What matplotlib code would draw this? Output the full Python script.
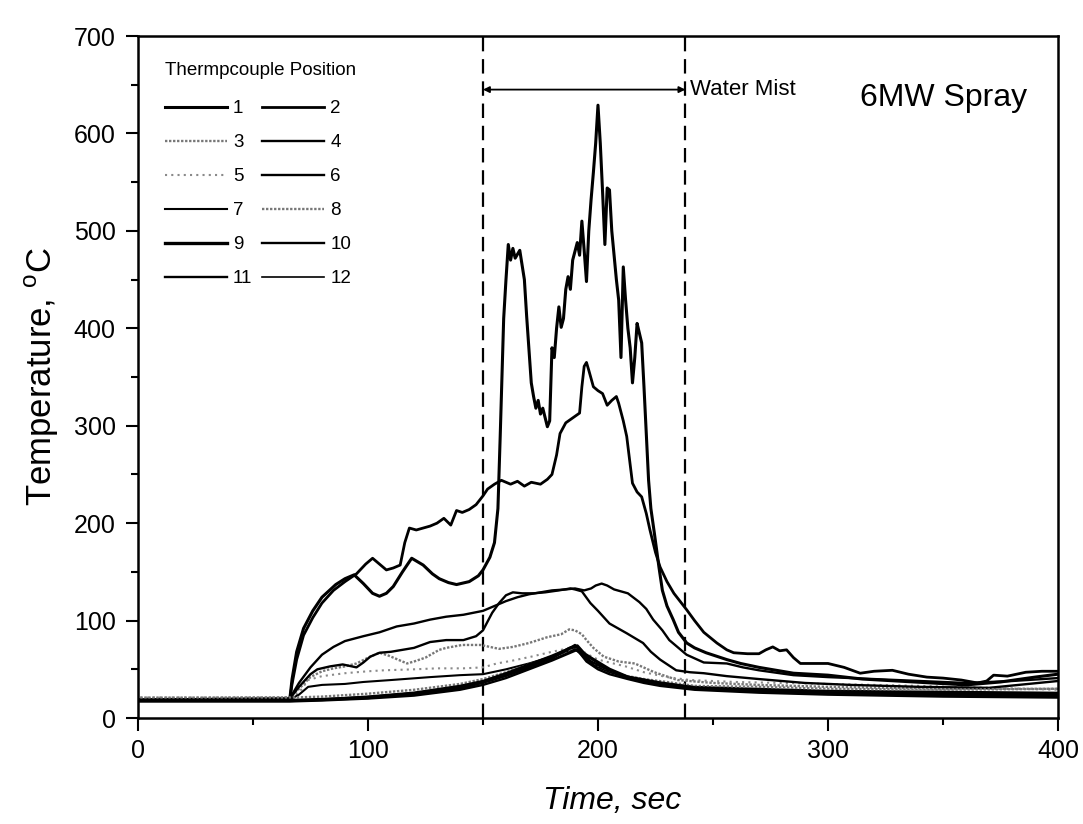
import matplotlib
matplotlib.use("Agg")
import matplotlib.pyplot as plt
from matplotlib.ticker import MultipleLocator

plt.rcParams["font.family"] = ["Liberation Sans", "DejaVu Sans"]
plt.rcParams["mathtext.fontset"] = "custom"
plt.rcParams["mathtext.rm"] = "Liberation Sans"

# thermocouple traces (time in s, temperature in degC)
s1_t = [1, 66, 67, 69, 72, 76, 80, 86, 90, 94, 98, 102, 105, 108, 111, 115, 119, 124,
        128, 131, 135, 138.5, 144, 148, 150, 153, 155, 156.5, 157.5, 159, 160, 161, 162,
        163, 164, 166, 168, 169, 171, 172, 173, 174, 175, 176, 178, 179, 180, 181, 182,
        183, 184, 185, 186, 187, 188, 189, 191, 192, 193, 194, 195, 196, 197, 198, 199,
        200, 201, 202, 203, 204, 205, 206, 207, 208, 209, 210, 211, 212, 213, 214, 215,
        216, 217, 218, 219, 220, 221, 222, 223, 224.5, 226.5, 228, 230, 232.7, 235,
        238.6, 242, 247, 256, 262, 270, 285, 300, 315, 330, 345, 360, 375, 390, 400]
s1_T = [18, 19, 40, 68, 92, 110, 124, 137, 143, 147, 138, 128, 125, 128, 135, 150, 164, 157,
        148, 143, 139, 137, 140, 146, 152, 165, 180, 215, 290, 410, 450, 486, 470,
        482, 472, 480, 450, 412, 344, 330, 318, 326, 312, 318, 299, 305, 380, 370, 400,
        422, 401, 410, 440, 453, 440, 470, 488, 475, 510, 480, 448, 500, 532, 560, 590,
        629, 590, 540, 486, 544, 542, 500, 475, 450, 429, 370, 463, 429, 400, 380, 344,
        370, 405, 395, 385, 340, 292, 244, 215, 190, 155, 131, 115, 101, 88,
        77, 72, 67, 60, 56, 52, 46, 44, 40, 38, 36, 34, 37, 42, 45]

s2_t = [1, 66, 67, 69, 72, 76, 80, 85, 90, 95, 99, 102, 105, 108, 111, 114, 116, 118, 121,
        124, 127, 130, 133, 136, 138.5, 141, 144, 147, 150, 152, 155, 158, 162, 165, 168,
        171, 175, 178, 180, 182, 183.5, 186, 189, 192, 193, 194, 195, 196, 198, 200, 202,
        204, 206, 208, 209, 211, 212.5, 214, 215, 217, 219, 221, 222.6, 225, 227, 230, 233,
        238.6, 242, 246, 251.7, 256, 259, 265, 270, 273, 276, 279, 282, 285, 288, 295, 300,
        307, 314, 320, 328, 335, 343, 350, 358, 365, 369, 372, 378, 386, 393, 400]
s2_T = [18, 19, 35, 60, 85, 103, 118, 131, 140, 148, 158, 164, 158, 152, 154, 157, 180, 195, 193,
        195, 197, 200, 205, 198, 213, 211, 214, 219, 228, 235, 240, 244, 240, 243, 238,
        242, 240, 245, 250, 270, 292, 303, 308, 313, 340, 361, 365, 357, 340, 336, 333,
        321, 326, 330, 323, 305, 289, 260, 241, 232, 227, 210, 193, 170, 155, 140, 128,
        111, 100, 88, 77, 70, 67, 66, 66, 70, 73, 69, 70, 62, 56, 56, 56,
        52, 46, 48, 49, 45, 42, 41, 39, 36, 38, 44, 43, 47, 48, 48]

s3_t = [1, 66, 70, 75, 80, 85, 90, 95, 101, 105, 109, 113, 117, 120, 125, 131, 134, 141, 149,
        153, 157, 163, 170, 178, 184, 187.5, 190, 193, 195, 198, 202.5, 209, 216, 224.5,
        234.6, 250, 270, 300, 350, 400]
s3_T = [20, 21, 30, 42, 48, 51, 53, 56, 63, 67, 64, 60, 56, 58, 62, 70, 72, 75, 75,
        73, 71, 73, 77, 83, 86, 91, 90, 86, 80, 72, 63, 58, 56, 47,
        39, 36, 34, 32, 30, 30]

s4_t = [1, 66, 68, 70, 75, 80, 85, 90, 98, 105, 112.5, 120, 127, 134, 141.5, 150, 155, 160,
        165, 170, 175, 180, 186, 190, 194, 197, 199, 201.6, 204, 207, 210, 213, 218, 221,
        224, 228, 231, 235, 238.5, 246, 256, 263, 270, 285, 300, 320, 340, 360, 380, 400]
s4_T = [19, 20, 28, 36, 52, 65, 73, 79, 84, 88, 94, 97, 101, 104, 106, 110, 115, 120,
        124, 127, 129, 131, 132, 133, 131, 133, 136, 138, 136, 132, 130, 128, 119, 112,
        101, 90, 80, 72, 65, 57, 56, 52, 49, 44, 42, 40, 38, 36, 38, 41]

s5_t = [1, 66, 70, 74, 80, 90, 100, 107, 120, 130, 141.5, 150, 156, 163, 171, 180, 186, 191,
        195, 200, 205, 212, 220, 230, 240, 260, 300, 340, 370, 400]
s5_T = [21, 21, 26, 39, 43, 46, 48, 49, 50, 51, 51, 52, 56, 59, 63, 68, 71, 73,
        66, 60, 57, 53, 47, 42, 39, 37, 35, 33, 31, 29]

s6_t = [1, 66, 68, 70, 75, 78, 83.5, 89, 95, 98, 101, 105, 110, 115, 120, 127, 134, 141.5,
        147, 150, 154, 157, 160, 163, 167, 172, 177, 183, 188, 190, 193, 196.7, 200, 205,
        212.5, 219.6, 223, 227, 234, 240, 246, 256, 270, 290, 310, 340, 370, 400]
s6_T = [19, 20, 26, 32, 45, 50, 53, 55, 52, 57, 63, 67, 68, 70, 72, 78, 80, 80,
        84, 90, 108, 118, 126, 129, 128, 128, 129, 131, 133, 132, 130, 118, 110, 97,
        87, 77, 68, 60, 49, 47, 46, 43, 40, 36, 34, 32, 31, 38]

s7_t = [1, 66, 70, 74, 80, 90, 98, 110, 127, 140, 150, 160, 170, 180, 186, 190, 193, 198,
        205, 213, 220, 227, 242, 270, 300, 350, 400]
s7_T = [18, 19, 24, 32, 34, 35, 37, 39, 42, 44, 45, 50, 56, 63, 68, 70, 66, 55,
        48, 42, 39, 36, 32, 30, 28, 27, 26]

s8_t = [1, 66, 80, 100, 120, 140, 150, 160, 170, 180, 188, 190, 195, 200, 205, 213, 220,
        230, 242, 270, 300, 350, 400]
s8_T = [21, 21, 22, 25, 29, 35, 40, 47, 55, 63, 70, 72, 62, 52, 47, 43, 40,
        37, 33, 32, 30, 29, 30]

s9_t = [1, 66, 80, 100, 120, 140, 150, 160, 170, 180, 188, 191, 194, 198, 205, 213, 220,
        227, 242, 270, 300, 350, 400]
s9_T = [18, 18, 19, 21, 25, 31, 37, 44, 53, 62, 72, 74, 66, 60, 50, 42, 39,
        36, 31, 28, 26, 25, 25]

s10_t = [1, 66, 80, 100, 120, 140, 150, 160, 170, 180, 188, 190, 193, 197, 205, 213, 220,
         227, 242, 270, 300, 350, 400]
s10_T = [18, 18, 19, 22, 26, 33, 38, 46, 55, 64, 72, 75, 66, 58, 49, 42, 38,
         35, 30, 27, 25, 24, 23]

s11_t = [1, 66, 80, 100, 120, 140, 150, 160, 170, 180, 188, 191, 195, 200, 205, 213, 220,
         227, 242, 270, 300, 350, 400]
s11_T = [17, 17, 18, 20, 23, 29, 34, 41, 50, 59, 67, 70, 58, 50, 45, 40, 36,
         33, 29, 26, 24, 22, 21]

s12_t = [1, 66, 80, 100, 120, 140, 150, 160, 170, 180, 188, 190, 194, 199, 205, 213, 220,
         227, 242, 270, 300, 350, 400]
s12_T = [18, 18, 19, 21, 24, 30, 36, 43, 51, 60, 68, 71, 62, 53, 47, 41, 37,
         34, 30, 27, 25, 23, 22]

labels = ["1", "2", "3", "4", "5", "6", "7", "8", "9", "10", "11", "12"]
mist_start, mist_end = 150, 238

series = [(s1_t, s1_T), (s2_t, s2_T), (s3_t, s3_T), (s4_t, s4_T), (s5_t, s5_T),
          (s6_t, s6_T), (s7_t, s7_T), (s8_t, s8_T), (s9_t, s9_T), (s10_t, s10_T),
          (s11_t, s11_T), (s12_t, s12_T)]

# scan is black & white: solid black lines, a few grey dotted ones
styles = [
    dict(color="black", lw=2.2, ls="-"),
    dict(color="black", lw=2.0, ls="-"),
    dict(color="#777777", lw=1.7, ls=(0, (1, 0.7))),
    dict(color="black", lw=1.7, ls="-"),
    dict(color="#8a8a8a", lw=1.5, ls=(0, (1, 2))),
    dict(color="black", lw=1.7, ls="-"),
    dict(color="black", lw=1.5, ls="-"),
    dict(color="#777777", lw=1.7, ls=(0, (1, 0.7))),
    dict(color="black", lw=2.4, ls="-"),
    dict(color="black", lw=1.7, ls="-"),
    dict(color="black", lw=1.7, ls="-"),
    dict(color="black", lw=1.2, ls="-"),
]

fig = plt.figure(figsize=(10.83, 8.24), dpi=100)
ax = fig.add_axes([0.1274, 0.1286, 0.8495, 0.8277])

handles = []
for (t, T), lab, st in zip(series, labels, styles):
    (h,) = ax.plot(t, T, label=lab, **st)
    handles.append(h)

for x in (mist_start, mist_end):
    ax.axvline(x, color="black", lw=1.6, ls=(0, (6.5, 3.5)), zorder=1)

ax.annotate("", xy=(mist_start, 645), xytext=(mist_end, 645),
            arrowprops=dict(arrowstyle="<|-|>", color="black", lw=1.3,
                            shrinkA=0, shrinkB=0, mutation_scale=9))
ax.text(mist_end + 2, 645, "Water Mist", ha="left", va="center", fontsize=16)
ax.text(314, 636, "6MW Spray", ha="left", va="center", fontsize=23)

# legend reads row-wise: 1 2 / 3 4 / ... ; its heading is a separate text
ax.text(0.029, 0.950, "Thermpcouple Position", transform=ax.transAxes,
        ha="left", va="center", fontsize=13.5)
order = [0, 2, 4, 6, 8, 10, 1, 3, 5, 7, 9, 11]
ax.legend([handles[i] for i in order], [labels[i] for i in order], ncol=2,
          loc="upper left", bbox_to_anchor=(0.029, 0.906), frameon=False,
          fontsize=13.5, handlelength=3.3, handletextpad=0.35,
          columnspacing=0.5, labelspacing=0.9, borderpad=0, borderaxespad=0)

ax.set_xlim(0, 400)
ax.set_ylim(0, 700)
ax.xaxis.set_major_locator(MultipleLocator(100))
ax.xaxis.set_minor_locator(MultipleLocator(50))
ax.yaxis.set_major_locator(MultipleLocator(100))
ax.yaxis.set_minor_locator(MultipleLocator(50))
ax.tick_params(which="both", direction="out", top=False, right=False, width=1.5)
ax.tick_params(which="major", length=9, labelsize=18)
ax.tick_params(axis="y", which="major", pad=7)
ax.tick_params(axis="x", which="major", pad=6)
ax.tick_params(which="minor", length=5)
for sp in ax.spines.values():
    sp.set_linewidth(1.8)

ax.set_xlabel("Time, sec", fontsize=23, style="italic")
ax.set_ylabel(r"Temperature, $^{\mathrm{o}}$C", fontsize=25)
ax.xaxis.set_label_coords(0.515, -0.1)
ax.yaxis.set_label_coords(-0.084, 0.5)

fig.savefig("out.png", dpi=100)
